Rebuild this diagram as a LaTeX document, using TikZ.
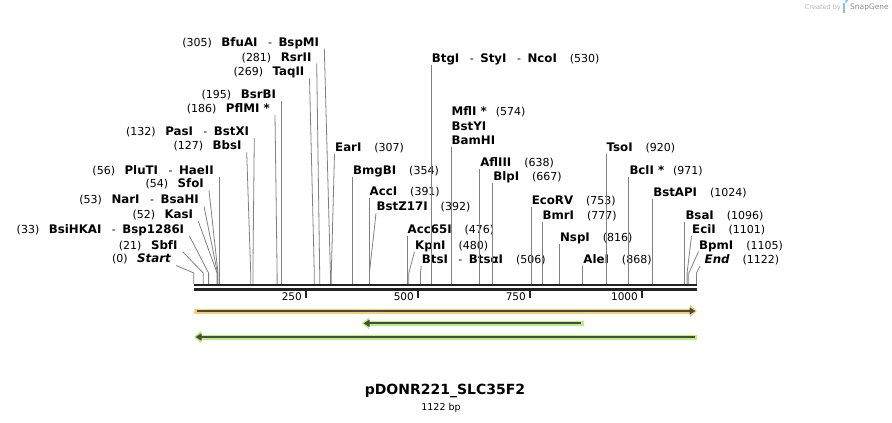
\documentclass[tikz,border=0pt]{standalone}
\usepackage{fontspec}
\setmainfont{DejaVu Sans}
\usetikzlibrary{arrows.meta}
\definecolor{cutgray}{RGB}{128,128,128}
\definecolor{rulerblack}{RGB}{34,34,34}
\definecolor{orangeband}{RGB}{250,204,118}
\definecolor{greenband}{RGB}{184,240,125}
\definecolor{featdark}{RGB}{72,76,60}
\definecolor{snapblue}{RGB}{130,195,235}
\newcommand{\enzname}[1]{{\fontsize{11.8}{13}\selectfont\bfseries #1}}
\newcommand{\enzdash}{\hspace{10.5pt}-\hspace{6.5pt}}

\begin{document}
\begin{tikzpicture}[x=1pt, y=-1pt,
  leftlabel/.style={anchor=south east, inner xsep=5pt, inner ysep=0pt,
    text height=8.6pt, text depth=2.3pt, font=\fontsize{11}{13}\selectfont},
  rightlabel/.style={anchor=south west, inner xsep=0.5pt, inner ysep=0pt,
    text height=8.6pt, text depth=2.3pt, font=\fontsize{11}{13}\selectfont},
  cutline/.style={draw=cutgray, line width=0.8pt},
  rulerline/.style={draw=rulerblack, line width=2.4pt},
  rulertick/.style={draw=rulerblack, line width=2pt},
  ticklabel/.style={anchor=east, inner sep=0pt, font=\fontsize{10.5}{12}\selectfont}]
\useasboundingbox (0,0) rectangle (892,423);

% sites on the ruler
\coordinate (s0) at (193.8,284);
\coordinate (s21) at (203.2,284);
\coordinate (s33) at (208.6,284);
\coordinate (s52) at (217.1,284);
\coordinate (s53) at (217.5,284);
\coordinate (s54) at (218.0,284);
\coordinate (s56) at (218.9,284);
\coordinate (s127) at (250.7,284);
\coordinate (s132) at (252.9,284);
\coordinate (s186) at (277.1,284);
\coordinate (s195) at (281.2,284);
\coordinate (s269) at (314.3,284);
\coordinate (s281) at (319.7,284);
\coordinate (s305) at (330.4,284);
\coordinate (s307) at (331.3,284);
\coordinate (s354) at (352.4,284);
\coordinate (s391) at (369.0,284);
\coordinate (s392) at (369.4,284);
\coordinate (s476) at (407.0,284);
\coordinate (s480) at (408.8,284);
\coordinate (s506) at (420.5,284);
\coordinate (s530) at (431.2,284);
\coordinate (s574) at (451.0,284);
\coordinate (s638) at (479.6,284);
\coordinate (s667) at (492.6,284);
\coordinate (s753) at (531.1,284);
\coordinate (s777) at (541.9,284);
\coordinate (s816) at (559.4,284);
\coordinate (s868) at (582.7,284);
\coordinate (s920) at (606.0,284);
\coordinate (s971) at (628.8,284);
\coordinate (s1024) at (652.6,284);
\coordinate (s1096) at (684.8,284);
\coordinate (s1101) at (687.1,284);
\coordinate (s1105) at (688.8,284);
\coordinate (s1122) at (696.5,284);

% enzymes, left side
\node[leftlabel] (bfuai) at (324.3,48.5) {(305)\hspace{9.5pt}\enzname{BfuAI}\enzdash\enzname{BspMI}};
\node[leftlabel] (rsrii) at (316.7,63.5) {(281)\hspace{9.5pt}\enzname{RsrII}};
\node[leftlabel] (taqii) at (309.5,78.3) {(269)\hspace{9.5pt}\enzname{TaqII}};
\node[leftlabel] (bsrbi) at (281.2,101.3) {(195)\hspace{9.5pt}\enzname{BsrBI}};
\node[leftlabel] (pflmi) at (275,114.8) {(186)\hspace{9.5pt}\enzname{PflMI *}};
\node[leftlabel] (pasi) at (254.3,138) {(132)\hspace{9.5pt}\enzname{PasI}\enzdash\enzname{BstXI}};
\node[leftlabel] (bbsi) at (246.7,152.4) {(127)\hspace{9.5pt}\enzname{BbsI}};
\node[leftlabel] (pluti) at (218.9,177) {(56)\hspace{9.5pt}\enzname{PluTI}\enzdash\enzname{HaeII}};
\node[leftlabel] (sfoi) at (209,190.4) {(54)\hspace{9.5pt}\enzname{SfoI}};
\node[leftlabel] (nari) at (204,206.4) {(53)\hspace{9.5pt}\enzname{NarI}\enzdash\enzname{BsaHI}};
\node[leftlabel] (kasi) at (198.3,221.4) {(52)\hspace{9.5pt}\enzname{KasI}};
\node[leftlabel] (bsihkai) at (189.3,235.7) {(33)\hspace{9.5pt}\enzname{BsiHKAI}\enzdash\enzname{Bsp1286I}};
\node[leftlabel] (sbfi) at (182.7,251.7) {(21)\hspace{9.5pt}\enzname{SbfI}};
\node[leftlabel] (startl) at (176,265.4) {(0)\hspace{9.5pt}\enzname{\itshape Start}};

% enzymes, right side
\node[rightlabel] (btgi) at (431.2,64.9) {\enzname{BtgI}\enzdash\enzname{StyI}\enzdash\enzname{NcoI}\hspace{13pt}(530)};
\node[rightlabel] (mfli) at (451,118.3) {\enzname{MflI *}\hspace{9pt}(574)};
\node[rightlabel] (bstyi) at (451,132.6) {\enzname{BstYI}};
\node[rightlabel] (bamhi) at (451,146.6) {\enzname{BamHI}};
\node[rightlabel] (eari) at (334.5,153.9) {\enzname{EarI}\hspace{13pt}(307)};
\node[rightlabel] (bmgbi) at (352.4,176.6) {\enzname{BmgBI}\hspace{13pt}(354)};
\node[rightlabel] (afliii) at (479.6,169.3) {\enzname{AflIII}\hspace{13pt}(638)};
\node[rightlabel] (blpi) at (492.6,182.6) {\enzname{BlpI}\hspace{13pt}(667)};
\node[rightlabel] (acci) at (369,198.3) {\enzname{AccI}\hspace{13pt}(391)};
\node[rightlabel] (bstz) at (376,213.3) {\enzname{BstZ17I}\hspace{13pt}(392)};
\node[rightlabel] (acc65i) at (407,235.9) {\enzname{Acc65I}\hspace{13pt}(476)};
\node[rightlabel] (kpni) at (414.5,251.6) {\enzname{KpnI}\hspace{13pt}(480)};
\node[rightlabel] (btsi) at (421.2,265.9) {\enzname{BtsI}\enzdash\enzname{BtsαI}\hspace{13pt}(506)};
\node[rightlabel] (ecorv) at (531.1,206.6) {\enzname{EcoRV}\hspace{13pt}(753)};
\node[rightlabel] (bmri) at (541.9,221.6) {\enzname{BmrI}\hspace{13pt}(777)};
\node[rightlabel] (nspi) at (559.4,243.9) {\enzname{NspI}\hspace{13pt}(816)};
\node[rightlabel] (alei) at (582.7,265.9) {\enzname{AleI}\hspace{13pt}(868)};
\node[rightlabel] (tsoi) at (606,153.9) {\enzname{TsoI}\hspace{13pt}(920)};
\node[rightlabel] (bcli) at (628.8,177.3) {\enzname{BclI *}\hspace{9pt}(971)};
\node[rightlabel] (bstapi) at (652.6,199.3) {\enzname{BstAPI}\hspace{13pt}(1024)};
\node[rightlabel] (bsai) at (684.8,221.6) {\enzname{BsaI}\hspace{13pt}(1096)};
\node[rightlabel] (ecii) at (691.5,235.9) {\enzname{EciI}\hspace{13pt}(1101)};
\node[rightlabel] (bpmi) at (698.5,251.6) {\enzname{BpmI}\hspace{13pt}(1105)};
\node[rightlabel] (endl) at (704,265.9) {\enzname{\itshape End}\hspace{13pt}(1122)};

% cut lines
\draw[cutline] (bfuai.south east) -- ([yshift=11pt]s305) -- (s305);
\draw[cutline] (rsrii.south east) -- ([yshift=11pt]s281) -- (s281);
\draw[cutline] (taqii.south east) -- ([yshift=11pt]s269) -- (s269);
\draw[cutline] (bsrbi.south east) -- ([yshift=11pt]s195) -- (s195);
\draw[cutline] (pflmi.south east) -- ([yshift=11pt]s186) -- (s186);
\draw[cutline] (pasi.south east) -- ([yshift=11pt]s132) -- (s132);
\draw[cutline] (bbsi.south east) -- ([yshift=11pt]s127) -- (s127);
\draw[cutline] (pluti.south east) -- ([yshift=11pt]s56) -- (s56);
\draw[cutline] (sfoi.south east) -- ([yshift=11pt]s54) -- (s54);
\draw[cutline] (nari.south east) -- ([yshift=11pt]s53) -- (s53);
\draw[cutline] (kasi.south east) -- ([yshift=11pt]s52) -- (s52);
\draw[cutline] (bsihkai.south east) -- ([yshift=11pt]s33) -- (s33);
\draw[cutline] (sbfi.south east) -- ([yshift=11pt]s21) -- (s21);
\draw[cutline] (startl.south east) -- ([yshift=11pt]s0) -- (s0);
\draw[cutline] (btgi.south west) -- (s530);
\draw[cutline] (bamhi.south west) -- (s574);
\draw[cutline] (eari.south west) -- ([yshift=11pt]s307) -- (s307);
\draw[cutline] (bmgbi.south west) -- (s354);
\draw[cutline] (afliii.south west) -- (s638);
\draw[cutline] (blpi.south west) -- (s667);
\draw[cutline] (acci.south west) -- (s391);
\draw[cutline] (bstz.south west) -- ([yshift=11pt]s392) -- (s392);
\draw[cutline] (acc65i.south west) -- (s476);
\draw[cutline] (kpni.south west) -- ([yshift=11pt]s480) -- (s480);
\draw[cutline] (btsi.south west) -- ([yshift=11pt]s506) -- (s506);
\draw[cutline] (ecorv.south west) -- (s753);
\draw[cutline] (bmri.south west) -- (s777);
\draw[cutline] (nspi.south west) -- (s816);
\draw[cutline] (alei.south west) -- (s868);
\draw[cutline] (tsoi.south west) -- (s920);
\draw[cutline] (bcli.south west) -- (s971);
\draw[cutline] (bstapi.south west) -- (s1024);
\draw[cutline] (bsai.south west) -- (s1096);
\draw[cutline] (ecii.south west) -- ([yshift=11pt]s1101) -- (s1101);
\draw[cutline] (bpmi.south west) -- ([yshift=11pt]s1105) -- (s1105);
\draw[cutline] ([xshift=-4pt]endl.south west) -- ([yshift=11pt]s1122) -- (s1122);

% ruler
\draw[rulerline] (193.8,285) -- (697,285);
\draw[rulerline] (193.8,289.4) -- (697,289.4);
\draw[rulertick] (305.8,290.5) -- (305.8,297.5);
\draw[rulertick] (417.8,290.5) -- (417.8,297.5);
\draw[rulertick] (529.8,290.5) -- (529.8,297.5);
\draw[rulertick] (641.8,290.5) -- (641.8,297.5);
\node[ticklabel] (t250) at (302,296.5) {250};
\node[ticklabel] (t500) at (414,296.5) {500};
\node[ticklabel] (t750) at (526,296.5) {750};
\node[ticklabel] (t1000) at (638,296.5) {1000};

% features
\coordinate (fa) at (194,311);
\coordinate (fb) at (697,311);
\coordinate (fc) at (362,323.3);
\coordinate (fd) at (583.5,323.3);
\coordinate (fe) at (194,337);
\coordinate (ff) at (697,337);
\draw[orangeband, line width=5pt, -{Triangle[length=7pt,width=12pt]}] (fa) -- (fb);
\draw[featdark, line width=2pt, -{Triangle[length=6pt,width=7pt]}] ([xshift=2.5pt]fa) -- ([xshift=-1.5pt]fb);
\draw[greenband, line width=5pt, {Triangle[length=7pt,width=12pt]}-] (fc) -- (fd);
\draw[featdark, line width=2pt, {Triangle[length=6pt,width=7pt]}-] ([xshift=1.5pt]fc) -- ([xshift=-2.5pt]fd);
\draw[greenband, line width=5pt, {Triangle[length=7pt,width=12pt]}-] (fe) -- (ff);
\draw[featdark, line width=2pt, {Triangle[length=6pt,width=7pt]}-] ([xshift=1.5pt]fe) -- ([xshift=-2.5pt]ff);

% title
\node[font=\fontsize{14}{16}\selectfont\bfseries] (title) at (445,391) {pDONR221\_SLC35F2};
\node[font=\fontsize{9.5}{11}\selectfont] (size) at (441,407.5) {1122 bp};

% watermark
\node[anchor=east, inner sep=0pt, text=black!45, font=\fontsize{7.5}{9}\selectfont] (snap) at (889,7.5) {SnapGene};
\fill[snapblue] ([xshift=-7pt,yshift=4.5pt]snap.west) rectangle ([xshift=-4.6pt,yshift=-5pt]snap.west);
\fill[snapblue] ([xshift=-4.6pt,yshift=4.5pt]snap.west) arc (90:-90:2.6);
\node[anchor=east, inner sep=0pt, text=black!30, font=\fontsize{6.5}{8}\selectfont] (made) at ([xshift=-9pt]snap.west) {Created by};
\end{tikzpicture}
\end{document}
